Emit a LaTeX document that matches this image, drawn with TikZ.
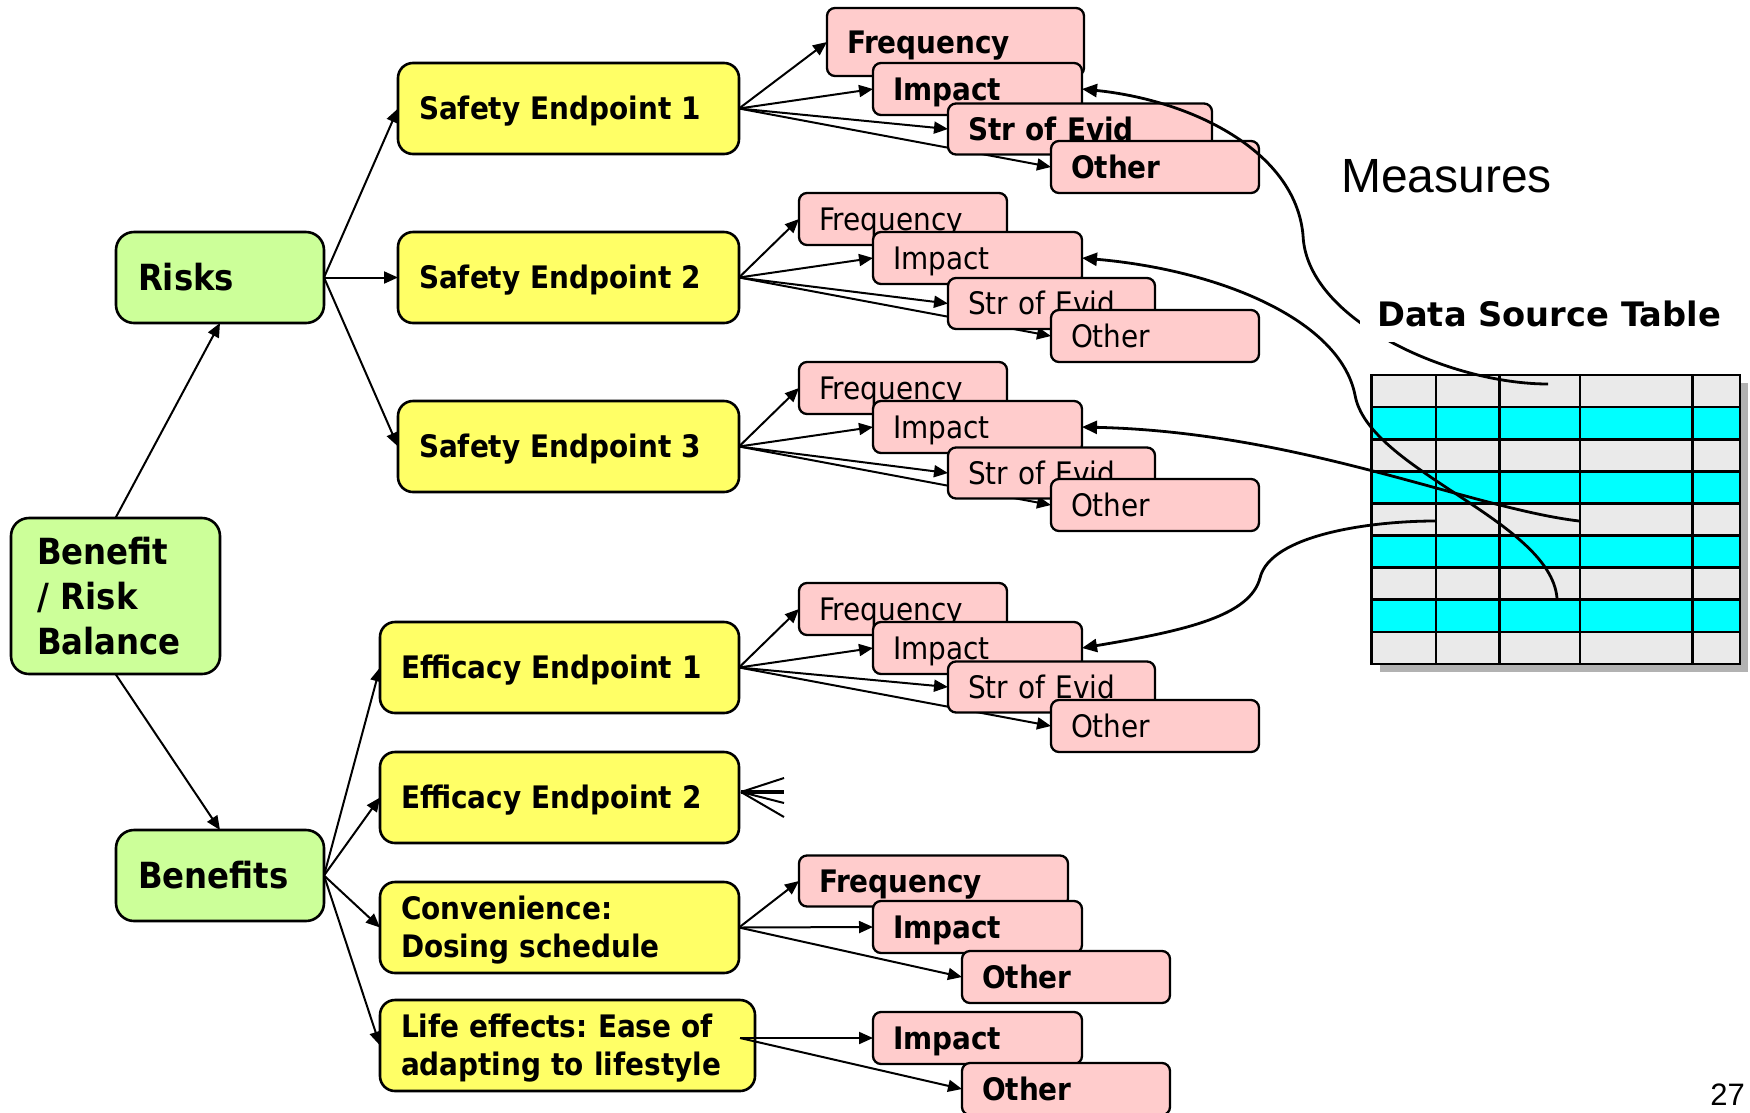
\documentclass[tikz,border=0pt]{standalone}
\usepackage{fontspec}
\newfontfamily\cond{DejaVu Sans Condensed}
\newfontfamily\verd{DejaVu Sans}
\newfontfamily\arial{Liberation Sans}
\usetikzlibrary{arrows.meta,backgrounds}
\definecolor{grnc}{HTML}{CCFF99}
\definecolor{yelc}{HTML}{FFFF66}
\definecolor{pnkc}{HTML}{FFCCCC}
\definecolor{cyanc}{HTML}{00FFFF}
\definecolor{cellc}{HTML}{EAEAEA}
\definecolor{shadc}{HTML}{B2B2B2}
\frenchspacing
\begin{document}
\begin{tikzpicture}[x=1pt,y=-1pt,
  box/.style={draw, line width=2.6pt, align=left, inner ysep=0pt, outer sep=0pt},
  grnbox/.style={box, fill=grnc, rounded corners=18pt, inner xsep=22pt, font=\fontsize{36}{44.7}\selectfont\cond\bfseries},
  ylwbox/.style={box, fill=yelc, rounded corners=15pt, inner xsep=21pt, font=\fontsize{31}{38}\selectfont\cond\bfseries},
  pnkbox/.style={box, line width=2.3pt, fill=pnkc, rounded corners=8pt, inner xsep=20pt, font=\fontsize{31}{38}\selectfont\cond, text height=22.6pt, text depth=0pt},
  pnkb/.style={pnkbox, font=\fontsize{31}{38}\selectfont\cond\bfseries},
  one/.style={text height=22.6pt, text depth=0pt},
  two/.style={text height=22.6pt, text depth=38pt},
  onebig/.style={text height=26.3pt, text depth=0pt},
  sz/.style n args={3}{minimum width=#1pt, minimum height=#2pt, text width=#3pt},
  arr/.style={line width=2pt, -{Triangle[length=14pt,width=12pt]}},
  crv/.style={line width=2.8pt, {Triangle[length=15pt,width=13pt]}-},
  ln/.style={line width=2pt}
]
\useasboundingbox (0,0) rectangle (1750,1112);

% green nodes
\node[grnbox, inner xsep=26pt, sz={209}{156}{157}] (brb) at (115.5,596) {Benefit\\/ Risk\\Balance};
\node[grnbox, onebig, sz={208}{91}{164}] (risks) at (220,277.5) {Risks};
\node[grnbox, onebig, sz={208}{91}{164}] (benefits) at (220,875.5) {Benefits};

% yellow nodes
\node[ylwbox, one, sz={341}{91}{299}] (se1) at (568.5,108.5) {Safety Endpoint 1};
\node[ylwbox, one, sz={341}{91}{299}] (se2) at (568.5,277.5) {Safety Endpoint 2};
\node[ylwbox, one, sz={341}{91}{299}] (se3) at (568.5,446.5) {Safety Endpoint 3};
\node[ylwbox, one, sz={359}{91}{317}] (ee1) at (559.5,667.5) {Efficacy Endpoint 1};
\node[ylwbox, one, sz={359}{91}{317}] (ee2) at (559.5,797.5) {Efficacy Endpoint 2};
\node[ylwbox, two, sz={359}{91}{317}] (conv) at (559.5,927.5) {Convenience:\\Dosing schedule};
\node[ylwbox, two, sz={375}{91}{333}] (life) at (567.5,1045.5) {Life effects: Ease of\\adapting to lifestyle};

% pink nodes, Safety Endpoint 1 (bold)
\node[pnkb, sz={257}{68}{217}] (f1) at (955.5,42) {Frequency};
\node[pnkb, sz={209}{52}{169}] (i1) at (977.5,89) {Impact};
\node[pnkb, sz={264}{51}{224}] (s1) at (1080,129) {Str of Evid};
\node[pnkb, sz={208}{52}{168}] (o1) at (1155,167) {Other};
% Safety Endpoint 2
\node[pnkbox, sz={208}{52}{168}] (f2) at (903,219) {Frequency};
\node[pnkbox, sz={209}{52}{169}] (i2) at (977.5,258) {Impact};
\node[pnkbox, sz={207}{51}{167}] (s2) at (1051.5,303.5) {Str of Evid};
\node[pnkbox, sz={208}{52}{168}] (o2) at (1155,336) {Other};
% Safety Endpoint 3
\node[pnkbox, sz={208}{52}{168}] (f3) at (903,388) {Frequency};
\node[pnkbox, sz={209}{52}{169}] (i3) at (977.5,427) {Impact};
\node[pnkbox, sz={207}{51}{167}] (s3) at (1051.5,473) {Str of Evid};
\node[pnkbox, sz={208}{52}{168}] (o3) at (1155,505) {Other};
% Efficacy Endpoint 1
\node[pnkbox, sz={208}{52}{168}] (f4) at (903,609) {Frequency};
\node[pnkbox, sz={209}{52}{169}] (i4) at (977.5,648) {Impact};
\node[pnkbox, sz={207}{51}{167}] (s4) at (1051.5,687) {Str of Evid};
\node[pnkbox, sz={208}{52}{168}] (o4) at (1155,726) {Other};
% Convenience (bold)
\node[pnkb, sz={269}{51}{229}] (f5) at (933.5,881) {Frequency};
\node[pnkb, sz={209}{52}{169}] (i5) at (977.5,927) {Impact};
\node[pnkb, sz={208}{52}{168}] (o5) at (1066,977) {Other};
% Life effects (bold)
\node[pnkb, sz={209}{52}{169}] (i6) at (977.5,1038) {Impact};
\node[pnkb, sz={208}{52}{168}] (o6) at (1066,1089) {Other};

% connectors beneath boxes
\begin{pgfonlayer}{background}
\draw[arr] (brb.north) -- (risks.south);
\draw[arr] (brb.south) -- (benefits.north);
\draw[arr] (risks.east) -- (se1.west);
\draw[arr] (risks.east) -- (se2.west);
\draw[arr] (risks.east) -- (se3.west);
\draw[arr] (benefits.east) -- (ee1.west);
\draw[arr] (benefits.east) -- (ee2.west);
\draw[arr] (benefits.east) -- (conv.west);
\draw[arr] (benefits.east) -- (life.west);
\foreach \g/\k in {se1/1,se2/2,se3/3,ee1/4}{
  \draw[arr] (\g.east) -- (f\k.west);
  \draw[arr] (\g.east) -- (i\k.west);
  \draw[arr] (\g.east) -- (s\k.west);
  \draw[arr] (\g.east) -- (o\k.west);
}
\draw[arr] (conv.east) -- (f5.west);
\draw[arr] (conv.east) -- (i5.west);
\draw[arr] (conv.east) -- (o5.west);
\end{pgfonlayer}

% life effects connectors
\coordinate (lifeout) at (740,1038);
\draw[arr] (lifeout) -- (i6.west);
\draw[arr] (lifeout) -- (o6.west);

% efficacy endpoint 2 stubs
\coordinate (cf0) at (741,792);
\coordinate (cfa) at (784,778);
\coordinate (cfb) at (784,792);
\coordinate (cfc) at (784,803);
\coordinate (cfd) at (784,817);
\draw[ln] (cf0) -- (cfa);
\draw[line width=3.6pt] (cf0) -- (cfb);
\draw[ln] (cf0) -- (cfc);
\draw[ln] (cf0) -- (cfd);

% data source table
\fill[shadc] (1379.7,383) rectangle (1748,672);
\fill[cellc] (1371.7,375) rectangle (1740,664);
\foreach \r in {1,3,5,7} \fill[cyanc] (1371.7,{375+\r*32.11}) rectangle (1740,{375+(\r+1)*32.11});
\foreach \r in {1,...,8} \draw[line width=2.6pt] (1371.7,{375+\r*32.11}) -- (1740,{375+\r*32.11});
\foreach \c in {1436,1499.7,1580,1692.3} \draw[line width=2.6pt] (\c,375) -- (\c,664);
\draw[line width=2.6pt] (1371.7,375) rectangle (1740,664);

% links from table cells to measures
\coordinate (t1) at (1548,384);
\coordinate (t2) at (1557,598);
\coordinate (t3) at (1579,521);
\coordinate (t4) at (1435,521);
\draw[crv] (i1.east) .. controls (1190,100) and (1295,150) .. (1303,235) .. controls (1306,320) and (1450,384) .. (t1);
\draw[crv] (i2.east) .. controls (1220,270) and (1340,320) .. (1355,395) .. controls (1368,470) and (1550,520) .. (t2);
\draw[crv] (i3.east) .. controls (1300,432) and (1470,508) .. (t3);
\draw[crv] (i4.east) .. controls (1190,630) and (1250,615) .. (1260,578) .. controls (1270,535) and (1370,521) .. (t4);

% labels
\node[font=\fontsize{48}{52}\selectfont\arial, anchor=base west, inner sep=0pt] (meas) at (1341,192.5) {Measures};
\node[font=\fontsize{33.7}{40}\selectfont\verd\bfseries, fill=white, anchor=base west, inner xsep=17pt, inner ysep=15pt] (dst) at (1360,326.7) {Data Source Table};
\node[font=\fontsize{31}{36}\selectfont\arial, anchor=base east, inner sep=0pt] (pg) at (1745,1105) {27};
\end{tikzpicture}
\end{document}
